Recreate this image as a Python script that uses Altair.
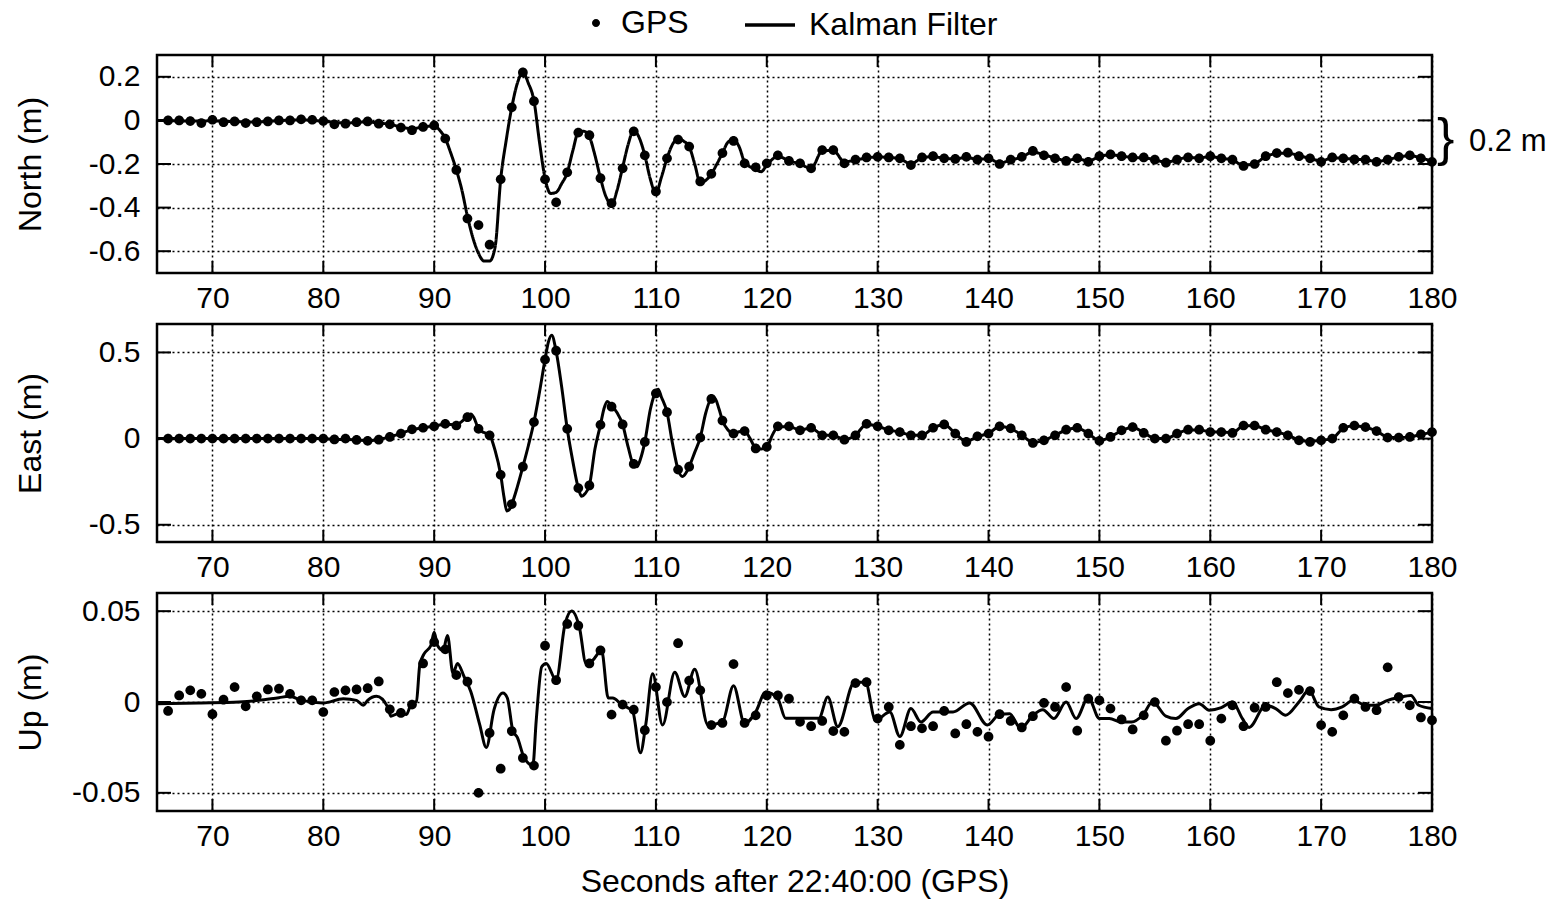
import altair as alt
import pandas as pd

FONT = "Liberation Sans"
X_DOMAIN = [65, 180]
X_TICKS = [70, 80, 90, 100, 110, 120, 130, 140, 150, 160, 170, 180]
GPS_T = list(range(66, 181))

# ---------------- North ----------------
NORTH_DOMAIN = [-0.7, 0.3]
NORTH_TICKS = [0.2, 0, -0.2, -0.4, -0.6]
NORTH_GPS = [
    0.000, 0.000, -0.003, -0.012, 0.003, -0.008, -0.005, -0.012, -0.008, -0.005,
    0.000, 0.000, 0.005, 0.003, -0.003, -0.018, -0.015, -0.008, -0.005, -0.015,
    -0.018, -0.033, -0.045, -0.030, -0.023, -0.083, -0.227, -0.450, -0.480, -0.570,
    -0.270, 0.060, 0.220, 0.088, -0.270, -0.376, -0.238, -0.056, -0.068, -0.265,
    -0.380, -0.220, -0.050, -0.160, -0.326, -0.174, -0.088, -0.120, -0.280, -0.245,
    -0.150, -0.094, -0.197, -0.215, -0.197, -0.160, -0.186, -0.197, -0.220, -0.136,
    -0.136, -0.197, -0.180, -0.170, -0.167, -0.170, -0.174, -0.205, -0.170, -0.164,
    -0.174, -0.177, -0.167, -0.180, -0.174, -0.200, -0.180, -0.167, -0.140, -0.160,
    -0.174, -0.186, -0.174, -0.190, -0.164, -0.156, -0.164, -0.170, -0.170, -0.180,
    -0.194, -0.180, -0.170, -0.174, -0.164, -0.174, -0.180, -0.209, -0.200, -0.164,
    -0.150, -0.148, -0.164, -0.174, -0.190, -0.170, -0.174, -0.179, -0.180, -0.190,
    -0.180, -0.167, -0.160, -0.174, -0.190,
]
NORTH_KF = [
    (65, 0.000), (68, -0.003), (70, -0.002), (72, -0.006), (74, -0.007), (76, -0.001),
    (78, 0.002), (80, -0.004), (82, -0.012), (84, -0.007), (85, -0.012), (86, -0.018),
    (87, -0.030), (88, -0.038), (89, -0.030), (90, -0.025), (90.5, -0.045), (91, -0.083),
    (91.5, -0.150), (92, -0.227), (92.5, -0.320), (93, -0.440), (93.5, -0.540), (94, -0.610),
    (94.5, -0.645), (95, -0.645), (95.5, -0.580), (96, -0.270), (96.5, -0.090), (97, 0.060),
    (97.5, 0.170), (98, 0.220), (98.5, 0.170), (99, 0.090), (99.5, -0.100), (100, -0.265),
    (100.5, -0.335), (101, -0.330), (101.5, -0.290), (102, -0.240), (102.5, -0.140),
    (103, -0.055), (103.5, -0.050), (104, -0.075), (104.5, -0.160), (105, -0.265),
    (105.5, -0.350), (106, -0.386), (106.5, -0.320), (107, -0.215), (107.5, -0.110),
    (108, -0.045), (108.5, -0.080), (109, -0.160), (109.5, -0.270), (110, -0.333),
    (110.5, -0.260), (111, -0.174), (111.5, -0.110), (112, -0.083), (112.5, -0.095),
    (113, -0.120), (113.5, -0.200), (114, -0.285), (114.5, -0.275), (115, -0.245),
    (115.5, -0.200), (116, -0.150), (116.5, -0.100), (117, -0.088), (117.5, -0.120),
    (118, -0.190), (119, -0.225), (119.5, -0.235), (120, -0.205), (121, -0.165),
    (122, -0.185), (123, -0.200), (124, -0.220), (125, -0.140), (126, -0.138), (127, -0.190),
    (128, -0.182), (129, -0.172), (130, -0.168), (131, -0.170), (132, -0.176), (133, -0.200),
    (134, -0.172), (135, -0.166), (136, -0.174), (137, -0.176), (138, -0.170), (139, -0.178),
    (140, -0.176), (141, -0.195), (142, -0.182), (143, -0.168), (144, -0.145), (145, -0.158),
    (146, -0.172), (147, -0.184), (148, -0.176), (149, -0.186), (150, -0.166), (151, -0.158),
    (152, -0.164), (153, -0.170), (154, -0.172), (155, -0.180), (156, -0.192), (157, -0.180),
    (158, -0.170), (159, -0.172), (160, -0.166), (161, -0.174), (162, -0.182), (163, -0.205),
    (164, -0.198), (165, -0.166), (166, -0.152), (167, -0.150), (168, -0.162), (169, -0.174),
    (170, -0.186), (171, -0.172), (172, -0.174), (173, -0.178), (174, -0.180), (175, -0.188),
    (176, -0.180), (177, -0.168), (178, -0.162), (179, -0.172), (180, -0.188),
]

# ---------------- East ----------------
EAST_DOMAIN = [-0.6, 0.665]
EAST_TICKS = [0.5, 0, -0.5]
EAST_GPS = [
    0.000, 0.000, 0.000, 0.000, 0.000, 0.000, 0.000, 0.000, 0.000, 0.000,
    0.000, 0.000, 0.000, 0.000, 0.000, -0.005, 0.000, -0.008, -0.013, -0.006,
    0.010, 0.029, 0.054, 0.063, 0.071, 0.086, 0.076, 0.124, 0.057, 0.019,
    -0.210, -0.380, -0.163, 0.096, 0.459, 0.510, 0.057, -0.287, -0.272, 0.080,
    0.185, 0.082, -0.147, -0.019, 0.262, 0.153, -0.180, -0.163, 0.006, 0.230,
    0.105, 0.029, 0.044, -0.057, -0.048, 0.071, 0.071, 0.048, 0.063, 0.019,
    0.019, -0.006, 0.019, 0.086, 0.071, 0.048, 0.038, 0.019, 0.019, 0.063,
    0.082, 0.029, -0.019, 0.013, 0.029, 0.071, 0.060, 0.019, -0.025, -0.010,
    0.019, 0.052, 0.063, 0.029, -0.013, 0.010, 0.048, 0.067, 0.033, 0.000,
    0.000, 0.029, 0.052, 0.052, 0.038, 0.038, 0.033, 0.076, 0.076, 0.052,
    0.038, 0.019, -0.010, -0.019, -0.010, 0.000, 0.063, 0.076, 0.067, 0.044,
    0.006, 0.006, 0.010, 0.025, 0.038,
]
EAST_KF = [
    (65, 0.0), (70, 0.0), (75, 0.0), (80, 0.0), (81, -0.005), (82, -0.004), (83, -0.008),
    (84, -0.012), (85, -0.005), (86, 0.010), (87, 0.030), (88, 0.052), (89, 0.063),
    (90, 0.072), (91, 0.084), (92, 0.080), (92.5, 0.100), (93, 0.130), (93.3, 0.143),
    (93.6, 0.120), (94, 0.057), (94.5, 0.035), (95, 0.019), (95.5, -0.070), (96, -0.210),
    (96.3, -0.340), (96.55, -0.420), (96.8, -0.410), (97.1, -0.363), (97.5, -0.280),
    (98, -0.163), (98.5, -0.040), (99, 0.096), (99.5, 0.270), (100, 0.459), (100.3, 0.560),
    (100.6, 0.600), (101, 0.507), (101.5, 0.300), (102, 0.057), (102.5, -0.130),
    (103, -0.287), (103.3, -0.335), (103.6, -0.320), (104, -0.272), (104.5, -0.060),
    (105, 0.080), (105.3, 0.170), (105.6, 0.216), (106, 0.190), (106.5, 0.150), (107, 0.082),
    (107.5, -0.050), (108, -0.155), (108.3, -0.163), (108.6, -0.120), (109, -0.019),
    (109.5, 0.170), (110, 0.275), (110.2, 0.287), (110.5, 0.240), (111, 0.153),
    (111.5, -0.030), (112, -0.180), (112.4, -0.220), (112.8, -0.190), (113, -0.163),
    (113.5, -0.080), (114, 0.006), (114.5, 0.150), (115, 0.232), (115.3, 0.235),
    (115.7, 0.170), (116, 0.105), (116.5, 0.050), (117, 0.029), (117.5, 0.040), (118, 0.044),
    (118.5, 0.000), (119, -0.055), (119.5, -0.060), (120, -0.050), (120.5, 0.020),
    (121, 0.068), (122, 0.070), (123, 0.050), (124, 0.062), (125, 0.022), (126, 0.018),
    (127, -0.004), (128, 0.020), (129, 0.084), (130, 0.072), (131, 0.050), (132, 0.038),
    (133, 0.020), (134, 0.020), (135, 0.062), (136, 0.080), (137, 0.030), (138, -0.016),
    (139, 0.012), (140, 0.030), (141, 0.070), (142, 0.058), (143, 0.020), (144, -0.022),
    (145, -0.010), (146, 0.020), (147, 0.050), (148, 0.062), (149, 0.030), (150, -0.012),
    (151, 0.010), (152, 0.046), (153, 0.066), (154, 0.034), (155, 0.002), (156, 0.000),
    (157, 0.028), (158, 0.050), (159, 0.050), (160, 0.040), (161, 0.038), (162, 0.034),
    (163, 0.074), (164, 0.074), (165, 0.052), (166, 0.038), (167, 0.020), (168, -0.008),
    (169, -0.016), (170, -0.010), (171, 0.000), (172, 0.060), (173, 0.075), (174, 0.066),
    (175, 0.044), (176, 0.008), (177, 0.006), (178, 0.010), (179, 0.024), (180, 0.036),
]

# ---------------- Up ----------------
UP_DOMAIN = [-0.06, 0.06]
UP_TICKS = [0.05, 0, -0.05]
UP_GPS = [
    -0.0049, 0.0036, 0.0064, 0.0045, -0.0067, 0.0013, 0.0082, -0.0024, 0.0031, 0.0069,
    0.0073, 0.0045, 0.0009, 0.0009, -0.0055, 0.0055, 0.0064, 0.0069, 0.0076, 0.0113,
    -0.0040, -0.0060, -0.0014, 0.0212, 0.0330, 0.0290, 0.0148, 0.0112, -0.0500, -0.0170,
    -0.0367, -0.0160, -0.0308, -0.0350, 0.0310, 0.0120, 0.0430, 0.0420, 0.0212, 0.0284,
    -0.0069, -0.0014, -0.0042, -0.0155, 0.0082, 0.0000, 0.0324, 0.0118, 0.0064, -0.0127,
    -0.0115, 0.0209, -0.0115, -0.0073, 0.0036, 0.0036, 0.0018, -0.0109, -0.0133, -0.0104,
    -0.0160, -0.0164, 0.0104, 0.0109, -0.0091, -0.0027, -0.0236, -0.0133, -0.0145, -0.0133,
    -0.0049, -0.0173, -0.0122, -0.0164, -0.0191, -0.0067, -0.0104, -0.0140, -0.0078, -0.0005,
    -0.0027, 0.0082, -0.0158, 0.0018, 0.0009, -0.0036, -0.0096, -0.0151, -0.0073, 0.0000,
    -0.0213, -0.0158, -0.0122, -0.0122, -0.0213, -0.0091, -0.0018, -0.0133, -0.0031, -0.0027,
    0.0109, 0.0049, 0.0067, 0.0060, -0.0127, -0.0164, -0.0073, 0.0018, -0.0027, -0.0045,
    0.0191, 0.0027, -0.0018, -0.0085, -0.0100,
]
UP_KF = [
    (65, -0.0009), (68.8, -0.0005), (72.4, 0.0), (74.2, 0.0009), (76, 0.0024), (76.9, 0.0031),
    (78.1, 0.0009), (80, -0.0005), (81.8, 0.0018), (83, 0.0009), (83.6, -0.0018), (84, 0.0009),
    (84.8, 0.0031), (85.8, -0.0027), (86.1, -0.0078), (86.9, -0.0060), (87.5, -0.0069),
    (87.9, -0.0014), (88.4, 0.0004), (88.7, 0.0203), (89.1, 0.0266), (89.7, 0.0311),
    (90.0, 0.0384), (90.3, 0.0311), (90.8, 0.0284), (91.2, 0.0366), (91.7, 0.0157),
    (92.1, 0.0212), (92.7, 0.0139), (93.3, 0.0058), (94.1, -0.0123), (94.7, -0.0250),
    (95.4, -0.0042), (96.2, 0.0049), (96.6, 0.0022), (97.1, -0.0159), (97.5, -0.0195),
    (98.1, -0.0304), (98.9, -0.0349), (99.2, -0.0105), (99.7, 0.0194), (100.1, 0.0212),
    (101.0, 0.0121), (101.8, 0.0429), (102.4, 0.0501), (103.1, 0.0411), (103.7, 0.0212),
    (104.3, 0.0230), (105.1, 0.0284), (105.7, 0.0022), (106.1, 0.0022), (106.9, -0.0014),
    (107.9, -0.0051), (108.6, -0.0280), (109.1, -0.0118), (109.7, 0.0155),
    (110.6, -0.0127), (111.7, 0.0164), (112.6, 0.0030), (113.5, 0.0180), (114.7, -0.0127),
    (116.0, -0.0110), (117.0, 0.0090), (118.0, -0.0118), (119.0, -0.0055), (119.9, 0.0055),
    (121.0, 0.0018), (121.7, -0.0090), (122.9, -0.0090), (124.7, -0.0090), (125.5, 0.0027),
    (126.4, -0.0136), (127.9, 0.0109), (128.9, 0.0109), (129.8, -0.0100), (131.1, -0.0055),
    (132.0, -0.0190), (133.0, -0.0036), (133.9, -0.0110), (135.0, -0.0055), (136.8, -0.0055),
    (138.3, -0.0005), (139.9, -0.0127), (141.0, -0.0068), (141.9, -0.0064), (142.9, -0.0145),
    (144.0, -0.0073), (144.9, -0.0042), (145.9, -0.0091), (147.0, 0.0), (147.9, -0.0091),
    (149.0, 0.0024), (150.0, -0.0091), (150.9, -0.0091), (152.0, -0.0110), (152.9, -0.0110),
    (153.9, -0.0073), (154.8, 0.0), (156.0, -0.0078), (156.9, -0.0091), (158.0, -0.0036),
    (159.0, -0.0009), (159.9, -0.0045), (161.0, -0.0031), (162.0, 0.0), (162.9, -0.0091),
    (163.5, -0.0140), (165.0, -0.0018), (165.9, -0.0036), (166.8, -0.0073), (168.0, 0.0),
    (168.9, 0.0064), (169.8, -0.0027), (170.9, -0.0042), (171.9, -0.0027), (172.9, 0.0009),
    (174.0, -0.0018), (174.9, -0.0018), (176.0, 0.0009), (177.0, 0.0024), (178.1, 0.0036),
    (178.8, -0.0018), (180.0, -0.0036),
]

W = 1275
H = 218
MINUS_FIX = "replace(datum.label, '\u2212', '-')"
DOT = "M-0.16,0A0.16,0.16 0 1,0 0.16,0A0.16,0.16 0 1,0 -0.16,0Z"
DOT_SIZE = 3700


def panel(ytitle, gps, kf, domain, yticks, interp, xtitle=None, legend=False, note=False):
    gps_df = pd.DataFrame({"t": GPS_T, "v": gps, "series": "GPS"})
    kf_df = pd.DataFrame({"t": [p[0] for p in kf], "v": [p[1] for p in kf], "series": "Kalman Filter"})
    xt_df = pd.DataFrame({"t": X_TICKS})
    yt_df = pd.DataFrame({"v": yticks})

    x_axis = alt.Axis(values=X_TICKS, format="d", labelPadding=10, titlePadding=15,
                      labelFlush=False, labelOverlap=False,
                      title=xtitle if xtitle else None)
    x = alt.X("t:Q", scale=alt.Scale(domain=X_DOMAIN, nice=False, zero=False), axis=x_axis)
    y = alt.Y("v:Q", scale=alt.Scale(domain=domain, nice=False, zero=False),
              axis=alt.Axis(values=yticks, format="~g", labelExpr=MINUS_FIX, title=ytitle,
                            labelPadding=17, titleX=-127, titleY=H / 2, titleAngle=270,
                            labelFlush=False, labelOverlap=False,
                            titleBaseline="middle", titleAlign="center"))

    line_enc = dict(x=x, y=y)
    pt_enc = dict(x=x, y=y)
    if legend:
        line_enc["strokeDash"] = alt.StrokeDash(
            "series:N", scale=alt.Scale(domain=["Kalman Filter"], range=[[1, 0]]),
            legend=alt.Legend(title=None, orient="none", legendX=586, legendY=-57,
                              symbolType="stroke", symbolSize=2500, symbolStrokeWidth=3.5,
                              symbolStrokeColor="black", labelFontSize=32, labelFont=FONT,
                              labelOffset=12, labelColor="black", labelLimit=600))
        pt_enc["shape"] = alt.Shape(
            "series:N", scale=alt.Scale(domain=["GPS"], range=[DOT]),
            legend=alt.Legend(title=None, orient="none", legendX=414, legendY=-57,
                              symbolSize=2500, symbolFillColor="black", symbolStrokeColor="black",
                              symbolStrokeWidth=0, symbolOpacity=1, labelFontSize=32,
                              labelFont=FONT, labelOffset=0, labelColor="black", labelLimit=600))

    line = alt.Chart(kf_df).mark_line(color="black", strokeWidth=3, interpolate=interp).encode(**line_enc)
    pts = alt.Chart(gps_df).mark_point(filled=True, shape=DOT, size=DOT_SIZE, opacity=1,
                                        color="black", strokeWidth=0).encode(**pt_enc)

    tick_style = dict(color="black", thickness=2, opacity=1, clip=True)
    xtick_top = alt.Chart(xt_df).mark_tick(orient="vertical", size=24, **tick_style).encode(
        x=x, y=alt.datum(domain[1]))
    xtick_bot = alt.Chart(xt_df).mark_tick(orient="vertical", size=24, **tick_style).encode(
        x=x, y=alt.datum(domain[0]))
    ytick_l = alt.Chart(yt_df).mark_tick(orient="horizontal", size=28, **tick_style).encode(
        y=y, x=alt.datum(X_DOMAIN[0]))
    ytick_r = alt.Chart(yt_df).mark_tick(orient="horizontal", size=28, **tick_style).encode(
        y=y, x=alt.datum(X_DOMAIN[1]))

    layers = [line, pts, xtick_top, xtick_bot, ytick_l, ytick_r]
    if note:
        ann = pd.DataFrame({"t": [180], "v": [-0.1], "brace": ["}"], "label": ["0.2 m"]})
        brace = alt.Chart(ann).mark_text(align="left", baseline="middle", fontSize=52, dx=5,
                                          dy=-3, font=FONT, color="black").encode(
            x=x, y=y, text="brace:N")
        lab = alt.Chart(ann).mark_text(align="left", baseline="middle", fontSize=31, dx=37,
                                        font=FONT, color="black").encode(
            x=x, y=y, text="label:N")
        layers += [brace, lab]
    return alt.layer(*layers).properties(width=W, height=H)


north = panel("North (m)", NORTH_GPS, NORTH_KF, NORTH_DOMAIN, NORTH_TICKS, "monotone",
              legend=True, note=True)
east = panel("East (m)", EAST_GPS, EAST_KF, EAST_DOMAIN, EAST_TICKS, "monotone")
up = panel("Up (m)", UP_GPS, UP_KF, UP_DOMAIN, UP_TICKS, "monotone",
           xtitle="Seconds after 22:40:00 (GPS)")

chart = alt.vconcat(north, east, up, spacing=7).resolve_scale(
    shape="independent", strokeDash="independent"
).resolve_legend(
    shape="independent", strokeDash="independent"
).properties(
    padding={"left": 12, "top": -4, "right": 5, "bottom": 0}, background="white"
).configure_view(
    stroke="black", strokeWidth=2.5
).configure_axis(
    grid=True, gridColor="black", gridDash=[2, 3], gridWidth=1.5, gridOpacity=1,
    domain=False, ticks=False, labelFont=FONT, titleFont=FONT, labelFontSize=30,
    titleFontSize=32, titleFontWeight="normal", labelColor="black", titleColor="black"
)

chart.save("out.html", embed_options={"renderer": "svg", "actions": False})
